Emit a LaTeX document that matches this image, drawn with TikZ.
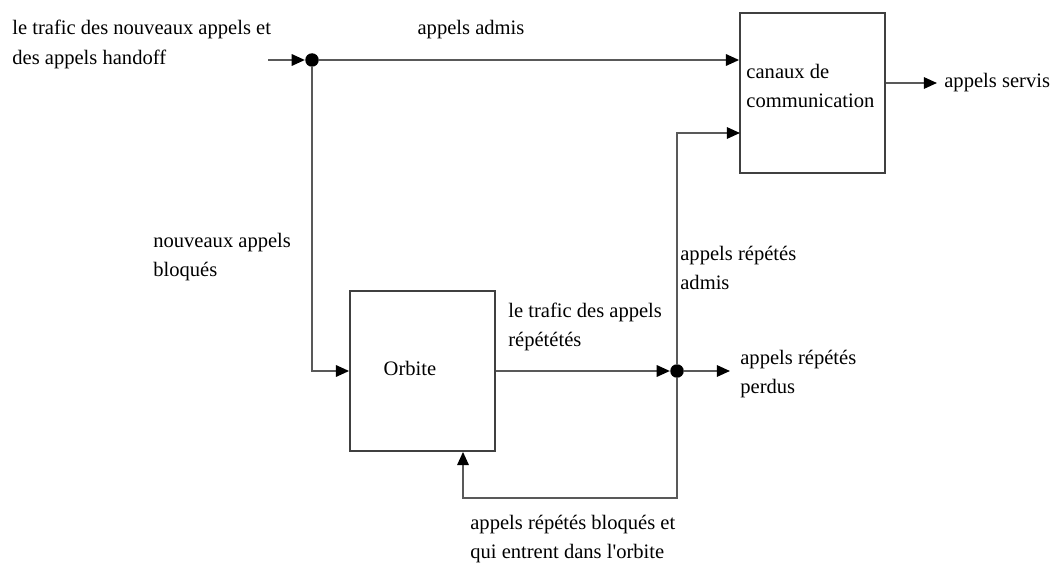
\documentclass[tikz,border=0pt]{standalone}
\usepackage{fontspec}
\setmainfont{Liberation Serif}
\usetikzlibrary{arrows.meta}

\tikzset{
  bloc/.style={draw=black!75, line width=1pt, minimum width=2.9cm, minimum height=3.2cm},
  flux/.style={draw=black!65, line width=1.1pt},
  jonction/.style={circle, fill=black, inner sep=0pt, minimum size=0.27cm},
  etiq/.style={align=left, inner sep=0pt, font=\fontsize{11.7}{17}\selectfont}
}

\begin{document}
\begin{tikzpicture}[>={Triangle[length=7.5pt,width=6.5pt,color=black]}]
    \useasboundingbox (0,0) rectangle (21.04,11.42);
    % blocs
    \node[bloc](C)at(16.25,9.56){};
    \node[etiq,anchor=west](tC)at([xshift=0.14cm,yshift=0.14cm]C.west){canaux de\\communication};
    \node[bloc](O)at(8.45,4.0){};
    \node[etiq](tO)at(8.2,4.06){Orbite};
    % jonctions
    \node[jonction](J1)at(6.24,10.22){};
    \node[jonction](J2)at(13.54,4.0){};
    \coordinate(E)at(5.36,10.22);
    \coordinate(S)at(18.74,9.76);
    \coordinate(P)at(14.6,4.0);
    \coordinate(K)at(14.8,8.76);
    \coordinate(B)at(13.54,1.46);
    \coordinate(L)at(9.26,1.46);
    % fleches
    \draw[flux,->](E)--(J1);
    \draw[flux,->](J1)--(C.west|-J1);
    \draw[flux,->](J1)|-(O);
    \draw[flux,->](O)--(J2);
    \draw[flux,->](J2)--(P);
    \draw[flux,->](J2)|-(K);
    \draw[flux,->](C.east|-S)--(S);
    \draw[flux,->](J2)--(B)--(L)--(L|-O.south);
    % etiquettes
    \node[etiq,anchor=north west](tE)at(0.24,11.02){le trafic des nouveaux appels et\\des appels handoff};
    \node[etiq](tA)at(9.42,10.82){appels admis};
    \node[etiq,anchor=west](tS)at(18.88,9.76){appels servis};
    \node[etiq,anchor=west](tN)at(3.06,6.28){nouveaux appels\\bloqués};
    \node[etiq,anchor=west](tR)at(13.6,6.06){appels répétés\\admis};
    \node[etiq,anchor=west](tT)at(10.16,4.88){le trafic des appels\\répététés};
    \node[etiq,anchor=west](tP)at(14.8,3.94){appels répétés\\perdus};
    \node[etiq,anchor=west](tB)at(9.4,0.64){appels répétés bloqués et\\qui entrent dans l\textquotesingle orbite};
\end{tikzpicture}
\end{document}
